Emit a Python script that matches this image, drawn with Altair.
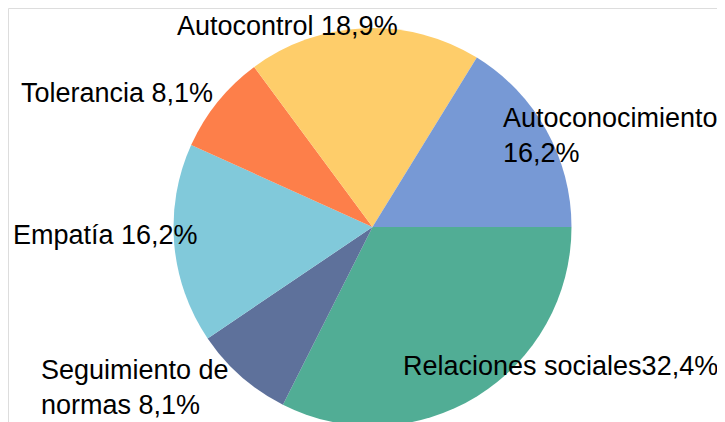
import math
import altair as alt
import pandas as pd

# ---- data ----
categories = ["Relaciones sociales", "Seguimiento de normas", "Empatía",
              "Tolerancia", "Autocontrol", "Autoconocimiento"]
values = [32.4, 8.1, 16.2, 8.1, 18.9, 16.2]
labels = ["Relaciones sociales32,4%", "Seguimiento de\nnormas 8,1%", "Empatía 16,2%",
          "Tolerancia 8,1%", "Autocontrol 18,9%", "Autoconocimiento\n16,2%"]

# ---- layout / style ----
colors = ["#51ad95", "#5e719b", "#81c9da", "#fd7f4a", "#fecd6a", "#7799d5"]
label_pos = {  # pixel anchors (left, baseline of first line)
    "Relaciones sociales": (395, 367),
    "Seguimiento de normas": (33, 371),
    "Empatía": (5, 236),
    "Tolerancia": (13, 94),
    "Autocontrol": (169, 27),
    "Autoconocimiento": (495, 119),
}
CX, CY, R = 364.5, 219, 199
W, H = 709, 414

df = pd.DataFrame({
    "category": categories,
    "value": values,
    "label": labels,
    "order": list(range(len(categories))),
    "lx": [label_pos[c][0] for c in categories],
    "ly": [label_pos[c][1] for c in categories],
})

base = alt.Chart(df)

pie = base.mark_arc(outerRadius=R, strokeWidth=0).encode(
    theta=alt.Theta("value:Q", stack=True,
                    scale=alt.Scale(range=[math.pi / 2, math.pi / 2 + 2 * math.pi])),
    color=alt.Color("category:N", scale=alt.Scale(domain=categories, range=colors),
                    legend=None),
    order=alt.Order("order:Q"),
    x=alt.value(CX),
    y=alt.value(CY),
)

text = base.mark_text(align="left", baseline="alphabetic", font="Liberation Sans",
                      fontSize=27, color="#000000", lineBreak="\n",
                      lineHeight=35).encode(
    x=alt.X("lx:Q", scale=None),
    y=alt.Y("ly:Q", scale=None),
    text="label:N",
)

chart = alt.layer(pie, text).properties(
    width=W, height=H,
    autosize=alt.AutoSizeParams(type="none"),
    padding=0,
).configure_view(strokeWidth=0, strokeOpacity=0).configure(background="white")

chart.save("out.html", embed_options={"renderer": "svg", "actions": False})
